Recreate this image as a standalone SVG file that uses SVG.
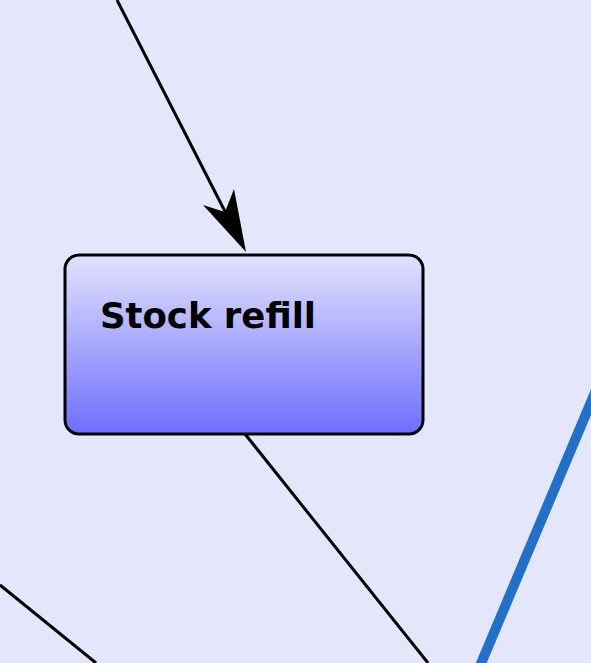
<svg xmlns="http://www.w3.org/2000/svg" width="591" height="663" viewBox="0 0 591 663">
<defs>
<linearGradient id="g" x1="0" y1="0" x2="0" y2="1">
<stop offset="0" stop-color="#E2E2FD"/>
<stop offset="1" stop-color="#6E6EFE"/>
</linearGradient>
<style>
.c{stroke:#000;stroke-width:3;fill:none}
.t{font-family:"DejaVu Sans",sans-serif;font-weight:bold;font-size:36px;fill:#000}
</style>
</defs>
<rect width="591" height="663" fill="#E4E6FC"/>
<g id="connectors">
<line class="c" x1="117" y1="0" x2="236" y2="233"/>
<polygon points="246,252 203,205 225,212 234,189" fill="#000"/>
<line class="c" x1="245" y1="434" x2="428" y2="663"/>
<line class="c" x1="0" y1="585" x2="96" y2="663"/>
<line x1="599" y1="383" x2="480" y2="666" stroke="#2370C8" stroke-width="10"/>
</g>
<g id="stock-refill">
<rect x="65" y="255" width="358" height="179" rx="14" fill="url(#g)" stroke="#000" stroke-width="3"/>
<text class="t" x="100" y="328" textLength="216" lengthAdjust="spacingAndGlyphs">Stock refill</text>
</g>
</svg>
